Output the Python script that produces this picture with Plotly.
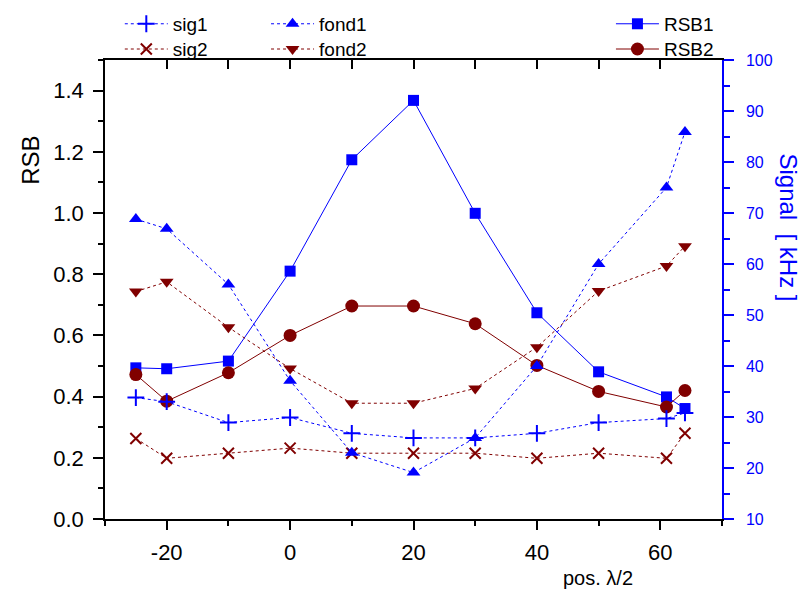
import plotly.graph_objects as go

pos = [-25, -20, -10, 0, 10, 20, 30, 40, 50, 61, 64]
rsb1 = [0.494, 0.491, 0.516, 0.810, 1.174, 1.368, 0.999, 0.674, 0.481, 0.399, 0.361]
rsb2 = [0.472, 0.385, 0.478, 0.600, 0.696, 0.696, 0.638, 0.502, 0.417, 0.366, 0.420]
sig1 = [33.8, 33.0, 28.9, 29.9, 26.8, 25.9, 25.9, 26.8, 28.9, 29.7, 30.8]
sig2 = [25.8, 21.9, 22.9, 23.9, 22.9, 22.9, 22.9, 21.9, 22.9, 21.9, 26.8]
fond1 = [68.8, 66.9, 56.0, 37.1, 23.0, 19.1, 25.9, 40.0, 60.0, 75.0, 85.9]
fond2 = [54.6, 56.5, 47.6, 39.5, 32.7, 32.7, 35.6, 43.7, 54.7, 59.6, 63.5]

x_tickvals = [-20, 0, 20, 40, 60]
x_ticktext = ["-20", "0", "20", "40", "60"]

BLUE = "#0000FF"
RED = "#800000"
FONT = "Liberation Sans, Arial, sans-serif"

fig = go.Figure()

fig.add_trace(go.Scatter(x=pos, y=rsb1, name="RSB1", mode="lines+markers", xaxis="x", yaxis="y",
                         line=dict(color=BLUE, width=1),
                         marker=dict(symbol="square", size=11, color=BLUE), legend="legend6"))
fig.add_trace(go.Scatter(x=pos, y=rsb2, name="RSB2", mode="lines+markers", xaxis="x", yaxis="y",
                         line=dict(color=RED, width=1),
                         marker=dict(symbol="circle", size=13, color=RED), legend="legend7"))

fig.add_trace(go.Scatter(x=pos, y=sig1, name="sig1", mode="lines+markers", xaxis="x2", yaxis="y2",
                         line=dict(color=BLUE, width=1, dash="dot"),
                         marker=dict(symbol="cross-thin", size=12, line=dict(color=BLUE, width=2)),
                         legend="legend2"))
fig.add_trace(go.Scatter(x=pos, y=sig2, name="sig2", mode="lines+markers", xaxis="x2", yaxis="y2",
                         line=dict(color=RED, width=1, dash="dot"),
                         marker=dict(symbol="x-thin", size=11, line=dict(color=RED, width=2)),
                         legend="legend3"))
fig.add_trace(go.Scatter(x=pos, y=fond1, name="fond1", mode="lines+markers", xaxis="x2", yaxis="y2",
                         line=dict(color=BLUE, width=1, dash="dot"),
                         marker=dict(symbol="triangle-up", size=12, color=BLUE),
                         legend="legend4"))
fig.add_trace(go.Scatter(x=pos, y=fond2, name="fond2", mode="lines+markers", xaxis="x2", yaxis="y2",
                         line=dict(color=RED, width=1, dash="dot"),
                         marker=dict(symbol="triangle-down", size=12, color=RED),
                         legend="legend5"))

leg_common = dict(orientation="v", xanchor="left", yanchor="top", bgcolor="rgba(0,0,0,0)",
                  font=dict(family=FONT, size=19, color="black"), tracegroupgap=0,
                  itemwidth=43)

ROW1 = 1.12
ROW2 = 1.065
fig.update_layout(
    width=802, height=590,
    margin=dict(l=105, r=80, t=60, b=71, autoexpand=False),
    paper_bgcolor="white", plot_bgcolor="white",
    font=dict(family=FONT, color="black"),
    legend2=dict(x=0.024, y=ROW1, **leg_common),
    legend3=dict(x=0.024, y=ROW2, **leg_common),
    legend4=dict(x=0.261, y=ROW1, **leg_common),
    legend5=dict(x=0.261, y=ROW2, **leg_common),
    legend6=dict(x=0.820, y=ROW1, **leg_common),
    legend7=dict(x=0.820, y=ROW2, **leg_common),
    xaxis=dict(range=[-30, 70], tickvals=x_tickvals, ticktext=x_ticktext, ticks="outside",
               ticklen=9, tickwidth=1.5, tickcolor="black", ticklabelstandoff=4,
               showline=True, linecolor="black", linewidth=1.5, showgrid=False, zeroline=False,
               tickfont=dict(size=22, family=FONT),
               minor=dict(dtick=10, tick0=0, ticks="outside", ticklen=5, tickwidth=1.5, tickcolor="black")),
    xaxis2=dict(range=[-30, 70], overlaying="x", side="top", anchor="y2", tick0=0, dtick=10,
                ticks="inside", ticklen=9, tickwidth=1.5, tickcolor="black",
                showline=True, linecolor="black", linewidth=1.5, showgrid=False, zeroline=False,
                showticklabels=False),
    yaxis=dict(range=[0, 1.5], tick0=0, dtick=0.2, tickformat=".1f", ticks="outside", ticklen=10,
               tickwidth=1.5, tickcolor="black", showline=True, linecolor="black", linewidth=1.5,
               showgrid=False, zeroline=False, tickfont=dict(size=22, family=FONT),
               ticklabelstandoff=5,
               minor=dict(dtick=0.1, tick0=0, ticks="outside", ticklen=5, tickwidth=1.5, tickcolor="black")),
    yaxis2=dict(range=[10, 100], overlaying="y", side="right", anchor="x2", tick0=0, dtick=10,
                ticks="outside", ticklen=10, tickwidth=1.5, tickcolor=BLUE,
                showline=True, linecolor=BLUE, linewidth=1.5, showgrid=False, zeroline=False,
                tickfont=dict(size=16, family=FONT, color=BLUE), ticklabelstandoff=9,
                minor=dict(dtick=5, tick0=0, ticks="outside", ticklen=6, tickwidth=1.5, tickcolor=BLUE)),
    annotations=[
        dict(text="RSB", xref="paper", yref="paper", x=-0.122, y=0.782, showarrow=False,
             textangle=-90, font=dict(size=24, family=FONT, color="black"),
             xanchor="center", yanchor="middle"),
        dict(text="Signal  [ kHz ]", xref="paper", yref="paper", x=1.108, y=0.636, showarrow=False,
             textangle=90, font=dict(size=24, family=FONT, color=BLUE),
             xanchor="center", yanchor="middle"),
        dict(text="pos. λ/2", xref="paper", yref="paper", x=0.799, y=-0.1285, showarrow=False,
             font=dict(size=20, family=FONT, color="black"), xanchor="center", yanchor="middle"),
    ],
)

fig.write_html("out.html", config={"displayModeBar": False},
               post_script="document.body.style.margin='0';document.body.style.overflow='hidden';")
